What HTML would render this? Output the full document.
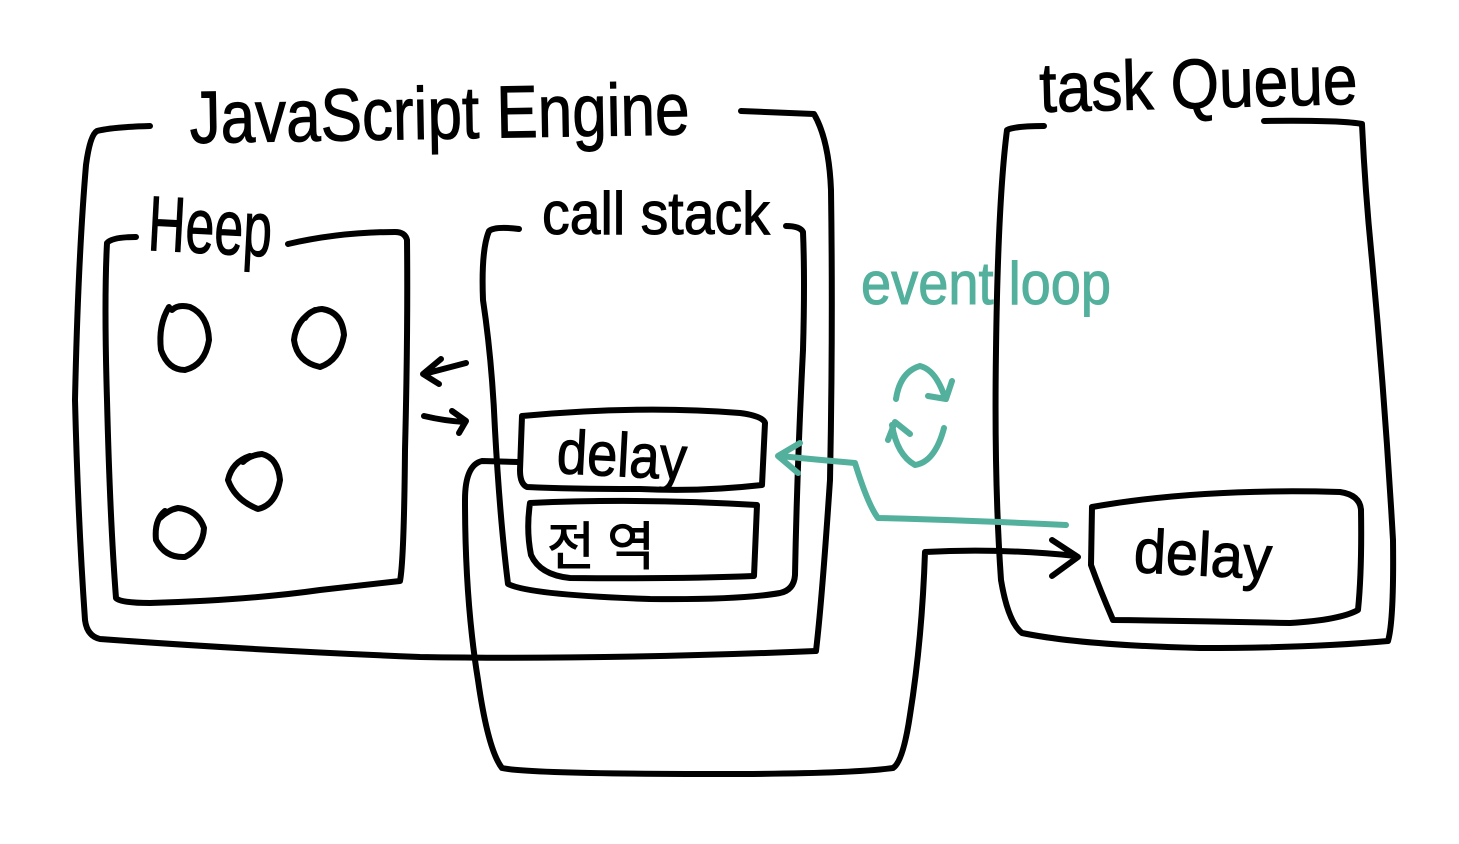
<!DOCTYPE html>
<html><head><meta charset="utf-8"><style>
html,body{margin:0;padding:0;background:#fff}
svg{display:block}
text{font-family:"Liberation Sans","Noto Sans CJK KR",sans-serif;fill:#000;stroke:#000;stroke-width:1}
.k{fill:none;stroke:#000;stroke-width:6;stroke-linecap:round;stroke-linejoin:round}
.g{fill:none;stroke:#52b09c;stroke-width:6;stroke-linecap:round;stroke-linejoin:round}
</style></head><body>
<svg width="1459" height="844" viewBox="0 0 1459 844" xmlns="http://www.w3.org/2000/svg">
<rect width="1459" height="844" fill="#fff"/>
<!-- Engine box -->
<path class="k" d="M150 126 Q112 127 97 131 Q90 135 86 165 Q78 260 75 400 Q78 520 85 620 Q87 636 100 639 Q250 650 420 657 Q600 660 816 651 Q822 600 830 480 Q833 330 831 190 Q829 140 814 114 L741 111"/>
<!-- Heep box -->
<path class="k" d="M136 237 Q112 237 107 243 Q104 300 107 400 Q110 520 116 598 Q120 603 150 603 Q250 600 320 590 L400 581 Q404 560 405 450 Q408 330 407 240 Q405 232 395 232 Q340 232 288 244"/>
<!-- Heep circles -->
<path class="k" d="M169 307 Q158 325 161 350 Q168 370 185 370 Q205 365 209 340 Q208 315 190 307 Q178 304 172 310"/>
<path class="k" d="M315 310 Q296 320 294 340 Q297 362 320 367 Q340 360 344 335 Q342 312 322 309 Q310 310 305 318"/>
<path class="k" d="M250 456 Q232 462 228 480 Q235 500 258 509 Q276 505 280 480 Q278 458 262 454 Q250 455 243 462"/>
<path class="k" d="M165 511 Q154 520 156 540 Q165 558 185 557 Q203 548 204 528 Q198 510 178 508 Q168 510 160 518"/>
<!-- Call stack box -->
<path class="k" d="M519 229 Q495 226 489 231 Q481 250 483 300 Q492 360 495 430 Q500 520 508 584 Q530 595 650 599 Q740 600 780 593 Q794 590 795 575 Q797 470 803 350 Q805 280 803 232 Q800 226 786 226"/>
<!-- small arrows -->
<path class="k" d="M466 363 L424 374 M441 359 L423 374 L439 384"/>
<path class="k" d="M424 416 Q445 421 465 422 M452 411 L466 421 L459 433"/>
<!-- delay box in stack -->
<path class="k" d="M522 416 Q640 405 740 413 Q763 416 765 423 L762 485 Q700 492 640 489 Q570 489 527 487 Q520 484 520 470 Z"/>
<!-- global box -->
<path class="k" d="M530 503 Q640 498 757 505 L754 576 Q680 579 570 578 Q540 575 531 555 Q526 530 530 503 Z"/>
<!-- Task queue box -->
<path class="k" d="M1044 126 Q1015 126 1007 130 Q998 200 996 350 Q994 480 1001 580 Q1008 622 1022 633 Q1080 645 1200 648 Q1310 648 1388 641 Q1394 620 1393 540 Q1385 400 1372 260 Q1365 190 1362 124 Q1340 120 1264 121"/>
<!-- delay box in queue -->
<path class="k" d="M1092 507 Q1200 488 1340 492 Q1360 495 1361 510 Q1362 570 1358 610 Q1340 620 1290 623 Q1200 621 1113 620 Q1100 590 1091 565 Z"/>
<!-- long connector -->
<path class="k" d="M518 462 L482 461 Q465 465 465 500 Q465 600 478 680 Q488 750 502 768 Q530 774 720 774 Q850 774 893 768 Q903 762 910 715 Q922 640 925 552 Q1000 548 1076 556 M1052 540 L1078 557 L1052 576"/>
<!-- green connector -->
<path class="g" d="M1066 525 Q960 520 878 518 Q868 505 855 463 Q820 460 780 456 M800 443 L778 456 L798 473"/>
<!-- loop arrows -->
<path class="g" d="M896 399 Q900 372 920 366 Q936 370 945 398 M952 381 L946 399 L928 396"/>
<path class="g" d="M944 428 Q935 462 915 465 Q897 455 892 425 M888 440 L895 422 L910 434"/>
<!-- Labels -->
<text x="190" y="143" font-size="74" textLength="500" lengthAdjust="spacingAndGlyphs" transform="rotate(-1 190 143)">JavaScript Engine</text>
<text x="1040" y="112" font-size="70" textLength="318" lengthAdjust="spacingAndGlyphs" transform="rotate(-1.5 1040 112)">task Queue</text>
<text x="147" y="250" font-size="78" textLength="124" lengthAdjust="spacingAndGlyphs" transform="rotate(3 147 250)">Heep</text>
<text x="542" y="234" font-size="60" textLength="228" lengthAdjust="spacingAndGlyphs">call stack</text>
<text x="861" y="304" font-size="60" textLength="250" lengthAdjust="spacingAndGlyphs" style="fill:#52b09c;stroke:#52b09c">event loop</text>
<text x="556" y="473" font-size="62" textLength="130" lengthAdjust="spacingAndGlyphs" transform="rotate(3 556 473)">delay</text>
<text x="1133" y="572" font-size="62" textLength="138" lengthAdjust="spacingAndGlyphs" transform="rotate(3 1133 572)">delay</text>
<text x="547" y="565" font-size="52" textLength="108" lengthAdjust="spacing">전역</text>
</svg>
</body></html>
